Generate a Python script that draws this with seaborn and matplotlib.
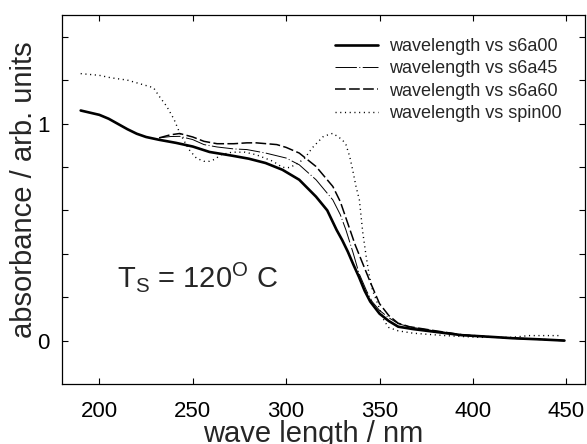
import numpy as np
import pandas as pd
import matplotlib
matplotlib.use("Agg")
import matplotlib.pyplot as plt
import seaborn as sns

# ---- data ----
wl_s6a00 = [190, 195, 200, 205, 210, 215, 220, 225, 232, 241, 250, 259, 271, 280, 289,
            298, 307, 316, 322, 327, 330, 333, 336, 339, 342, 345, 350, 355, 360, 368,
            380, 394, 410, 421, 435, 449]
ab_s6a00 = [1.06, 1.05, 1.04, 1.022, 0.998, 0.974, 0.953, 0.938, 0.925, 0.911, 0.894,
            0.869, 0.852, 0.838, 0.818, 0.787, 0.741, 0.663, 0.60, 0.51, 0.463, 0.41,
            0.35, 0.293, 0.23, 0.18, 0.124, 0.09, 0.064, 0.053, 0.040, 0.025, 0.017,
            0.011, 0.006, 0.0]

wl_s6a45 = [232, 238, 243, 250, 256, 263, 272, 279, 289, 300, 307, 316, 325, 329, 332,
            336, 339, 343, 346, 350, 355, 360, 366, 380, 394, 410, 421, 435, 449]
ab_s6a45 = [0.934, 0.94, 0.941, 0.926, 0.903, 0.892, 0.883, 0.880, 0.864, 0.841, 0.81,
            0.741, 0.648, 0.58, 0.51, 0.40, 0.31, 0.23, 0.18, 0.139, 0.105, 0.078, 0.063,
            0.044, 0.026, 0.017, 0.011, 0.006, 0.0]

wl_s6a60 = [232, 238, 243, 250, 256, 263, 272, 279, 284, 295, 300, 307, 316, 325, 329,
            333, 337, 341, 345, 350, 355, 360, 366, 380, 394, 410, 421, 435, 449]
ab_s6a60 = [0.934, 0.948, 0.954, 0.938, 0.918, 0.907, 0.907, 0.911, 0.911, 0.903, 0.89,
            0.864, 0.802, 0.71, 0.64, 0.54, 0.44, 0.355, 0.27, 0.17, 0.115, 0.08, 0.064,
            0.045, 0.027, 0.017, 0.011, 0.006, 0.0]

wl_spin00 = [190, 200, 206, 215, 223, 229, 232, 236, 240, 243, 248, 252, 256, 259, 262,
             265, 271, 278, 284, 293, 298, 302, 307, 310, 314, 317, 320, 325, 330, 332,
             334, 335.6, 337.4, 339.2, 341, 342.8, 344.5, 346.3, 349, 352.5, 355, 360,
             368, 385, 403, 421, 430, 446]
ab_spin00 = [1.23, 1.222, 1.211, 1.20, 1.18, 1.165, 1.126, 1.08, 1.019, 0.957, 0.88,
             0.84, 0.826, 0.826, 0.836, 0.856, 0.868, 0.868, 0.856, 0.826, 0.798, 0.797,
             0.821, 0.841, 0.888, 0.915, 0.941, 0.955, 0.926, 0.903, 0.849, 0.787, 0.71,
             0.648, 0.50, 0.39, 0.30, 0.23, 0.17, 0.09, 0.06, 0.045, 0.034, 0.023, 0.015,
             0.015, 0.023, 0.023]

labels = ["wavelength vs s6a00", "wavelength vs s6a45",
          "wavelength vs s6a60", "wavelength vs spin00"]
x_ticks = [200, 250, 300, 350, 400, 450]
y_ticks = [0, 0.2, 0.4, 0.6, 0.8, 1.0, 1.2, 1.4]
y_ticklabels = ["0", "", "", "", "", "1", "", ""]

# ---- style ----
sns.set_style("ticks")
plt.rcParams['font.family'] = ['Liberation Sans', 'DejaVu Sans']
plt.rcParams['mathtext.fontset'] = 'custom'
plt.rcParams['mathtext.rm'] = 'Liberation Sans'

fig = plt.figure(figsize=(5.87, 4.44), dpi=100)
ax = fig.add_axes([62 / 587, 1 - 384 / 444, (585 - 62) / 587, (384 - 15) / 444])

series = [
    (wl_s6a00, ab_s6a00, labels[0], 1.9, None),
    (wl_s6a45, ab_s6a45, labels[1], 0.7, (22, 2.5, 1, 2.5)),
    (wl_s6a60, ab_s6a60, labels[2], 1.1, (7, 2.2)),
    (wl_spin00, ab_spin00, labels[3], 1.0, (0.8, 2.6)),
]
handles = []
for wl, ab, lab, lw, dash in series:
    df = pd.DataFrame({"wl": wl, "ab": ab})
    sns.lineplot(data=df, x="wl", y="ab", ax=ax, color="black", linewidth=lw,
                 estimator=None, sort=False)
    line = ax.lines[-1]
    if dash is not None:
        line.set_dashes(dash)
    line.set_label(lab)
    handles.append(line)

ax.set_xlim(180, 460)
ax.set_ylim(-0.2, 1.5)
ax.set_xticks(x_ticks)
ax.set_xticklabels([str(t) for t in x_ticks])
ax.set_yticks(y_ticks)
ax.set_yticklabels(y_ticklabels)
ax.tick_params(direction="in", length=4, width=0.8, top=True, right=True,
               labelsize=16, colors="black")
ax.tick_params(axis="x", pad=12)
ax.tick_params(axis="y", pad=9)
for sp in ax.spines.values():
    sp.set_visible(True)
    sp.set_linewidth(0.9)
    sp.set_color("black")

ax.set_xlabel("wave length / nm", fontsize=21, labelpad=0)
ax.set_ylabel("absorbance / arb. units", fontsize=21)
ax.yaxis.set_label_coords(-0.045, 0.526)
ax.xaxis.set_label_coords(0.48, -0.097)
ax.xaxis.label.set_va("top")

ax.text(209.4, 0.247, r"T$_\mathregular{S}$ = 120$^\mathregular{O}$ C", fontsize=21,
        ha="left", va="baseline")

ax.legend(handles=handles, labels=labels, loc="upper left",
          bbox_to_anchor=(0.522, 0.938), frameon=False, fontsize=13,
          handlelength=2.4, handletextpad=0.6, labelspacing=0.30,
          borderpad=0, borderaxespad=0)

fig.savefig("out.png", dpi=100)
